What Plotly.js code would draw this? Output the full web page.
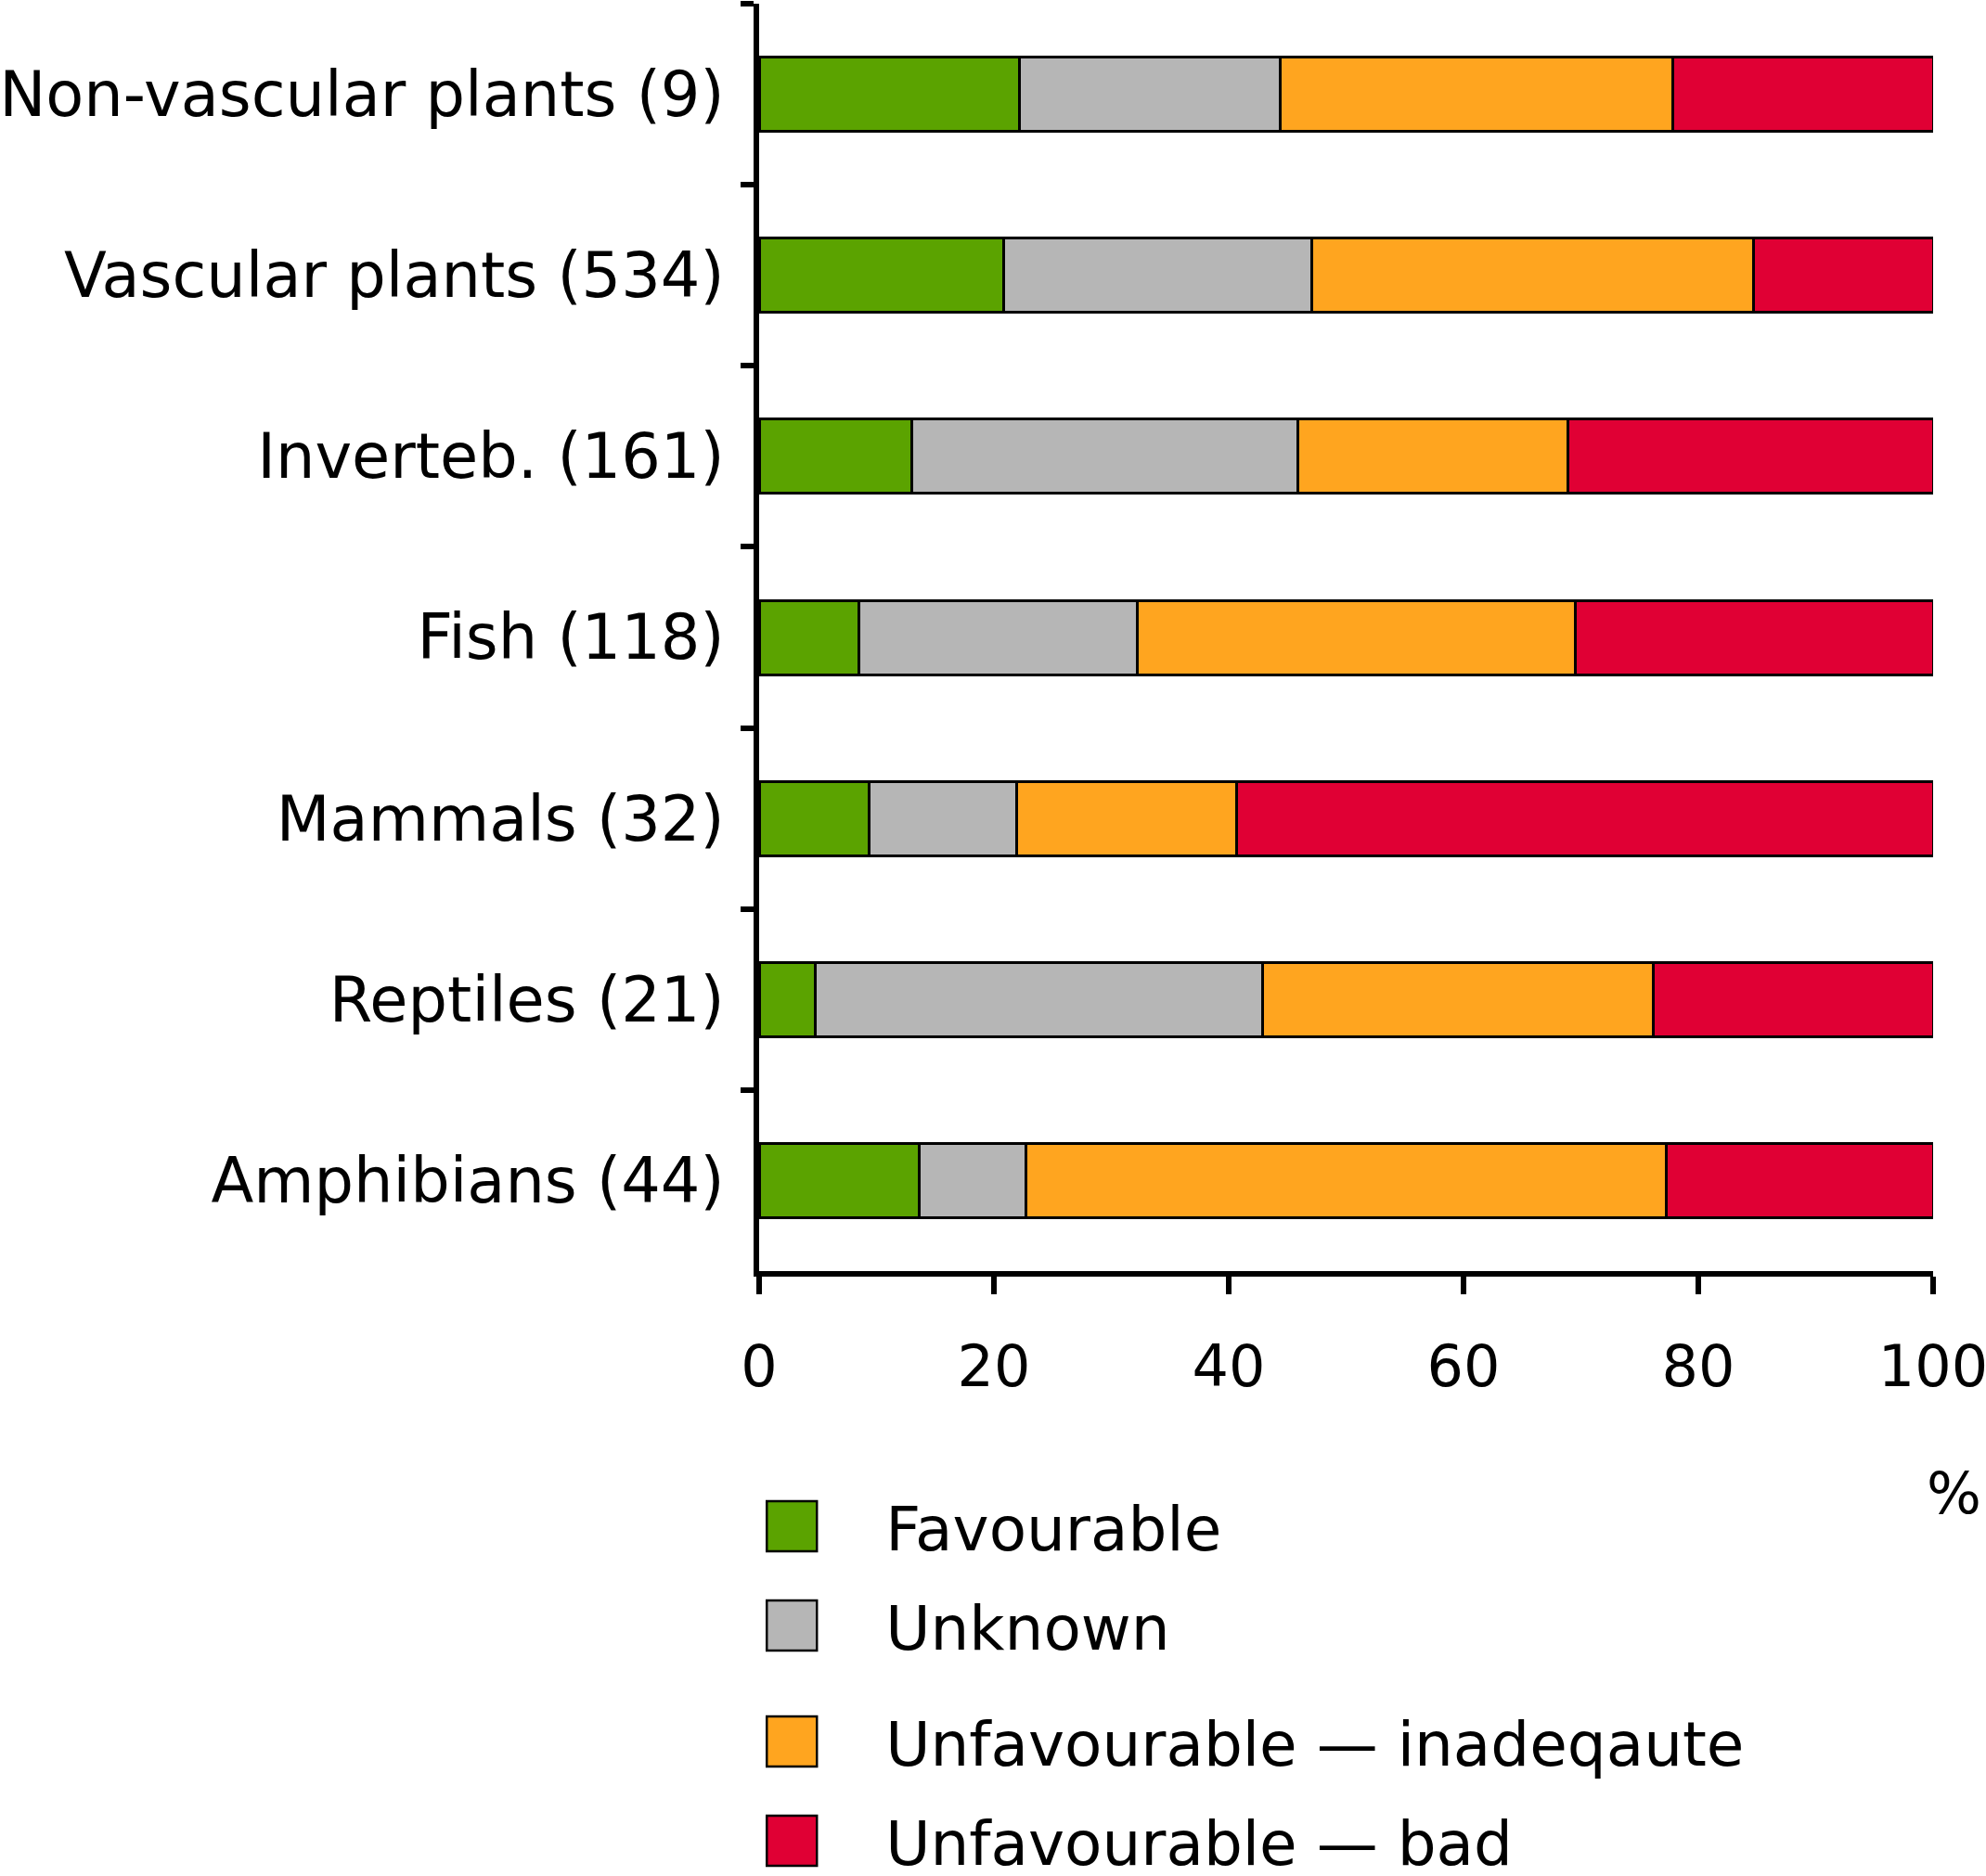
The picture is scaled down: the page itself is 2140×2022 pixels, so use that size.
<!DOCTYPE html>
<html>
<head>
<meta charset="utf-8">
<script src="https://cdn.plot.ly/plotly-3.0.1.min.js"></script>
<style>html,body{margin:0;padding:0;background:#fff;}</style>
</head>
<body>
<div id="chart" style="width:2140px;height:2022px;"></div>
<script>
const categories = ['Non-vascular plants (9)', 'Vascular plants (534)', 'Inverteb. (161)', 'Fish (118)', 'Mammals (32)', 'Reptiles (21)', 'Amphibians (44)'];
const favourable = [22.2, 20.8, 13.0, 8.5, 9.4, 4.8, 13.6];
const unknown    = [22.2, 26.3, 32.9, 23.7, 12.5, 38.1, 9.1];
const inadequate = [33.4, 37.6, 23.0, 37.3, 18.8, 33.3, 54.6];
const bad        = [22.2, 15.3, 31.1, 30.5, 59.3, 23.8, 22.7];
const seriesNames = ['Favourable', 'Unknown', 'Unfavourable — inadeqaute', 'Unfavourable — bad'];
const xTicks = [0, 20, 40, 60, 80, 100];

const colors = ['#5ba300', '#b6b6b6', '#ffa51f', '#e00034'];
const values = [favourable, unknown, inadequate, bad];
const legendIds = ['legend', 'legend2', 'legend3', 'legend4'];

const traces = values.map((v, i) => ({
  type: 'bar',
  orientation: 'h',
  name: seriesNames[i],
  x: v,
  y: categories,
  marker: {color: colors[i], line: {color: '#000', width: 3}},
  legend: legendIds[i],
  hoverinfo: 'none'
}));

const FONT = 'DejaVu Sans, Verdana, sans-serif';
const legendY = [-0.2014, -0.2798, -0.3713, -0.4496];
const legendBase = (y) => ({
  x: -0.052, xanchor: 'left', y: y, yanchor: 'middle',
  font: {family: FONT, size: 66, color: '#000'},
  bgcolor: 'rgba(0,0,0,0)', borderwidth: 0,
  itemwidth: 192, itemclick: false, itemdoubleclick: false
});

const layout = {
  width: 2140, height: 2022,
  margin: {l: 818, r: 57, t: 4, b: 652, autoexpand: false},
  paper_bgcolor: '#fff', plot_bgcolor: '#fff',
  barmode: 'stack',
  bargap: 0.59,
  font: {family: FONT, color: '#000'},
  xaxis: {
    range: [0, 100], tickvals: xTicks, ticktext: xTicks.map(String),
    ticks: 'outside', ticklen: 19, tickwidth: 6, tickcolor: '#000',
    showline: true, linewidth: 6, linecolor: '#000',
    showgrid: false, zeroline: false,
    tickfont: {family: FONT, size: 62, color: '#000'},
    ticklabelstandoff: 25, ticklabeloverflow: 'allow', fixedrange: true
  },
  yaxis: {
    type: 'category', categoryorder: 'array', categoryarray: categories,
    range: [6.5, -0.5], tickson: 'boundaries',
    ticks: 'outside', ticklen: 14, tickwidth: 6, tickcolor: '#000',
    showline: true, linewidth: 6, linecolor: '#000',
    showgrid: false, zeroline: false,
    tickfont: {family: FONT, size: 67, color: '#000'},
    ticklabelstandoff: 18, ticklabeloverflow: 'allow', fixedrange: true
  },
  showlegend: true,
  legend: legendBase(legendY[0]),
  legend2: legendBase(legendY[1]),
  legend3: legendBase(legendY[2]),
  legend4: legendBase(legendY[3]),
  annotations: [{
    text: '%', xref: 'paper', yref: 'paper', x: 1.018, y: -0.175,
    xanchor: 'center', yanchor: 'middle', showarrow: false,
    font: {family: FONT, size: 62, color: '#000'}
  }]
};

Plotly.newPlot('chart', traces, layout, {staticPlot: true}).then(() => {
  document.querySelectorAll('.legendpoints path').forEach(p => {
    p.setAttribute('d', 'M27,27H-27V-27H27Z');
    p.style.strokeWidth = '2.5px';
  });
});
</script>
</body>
</html>
